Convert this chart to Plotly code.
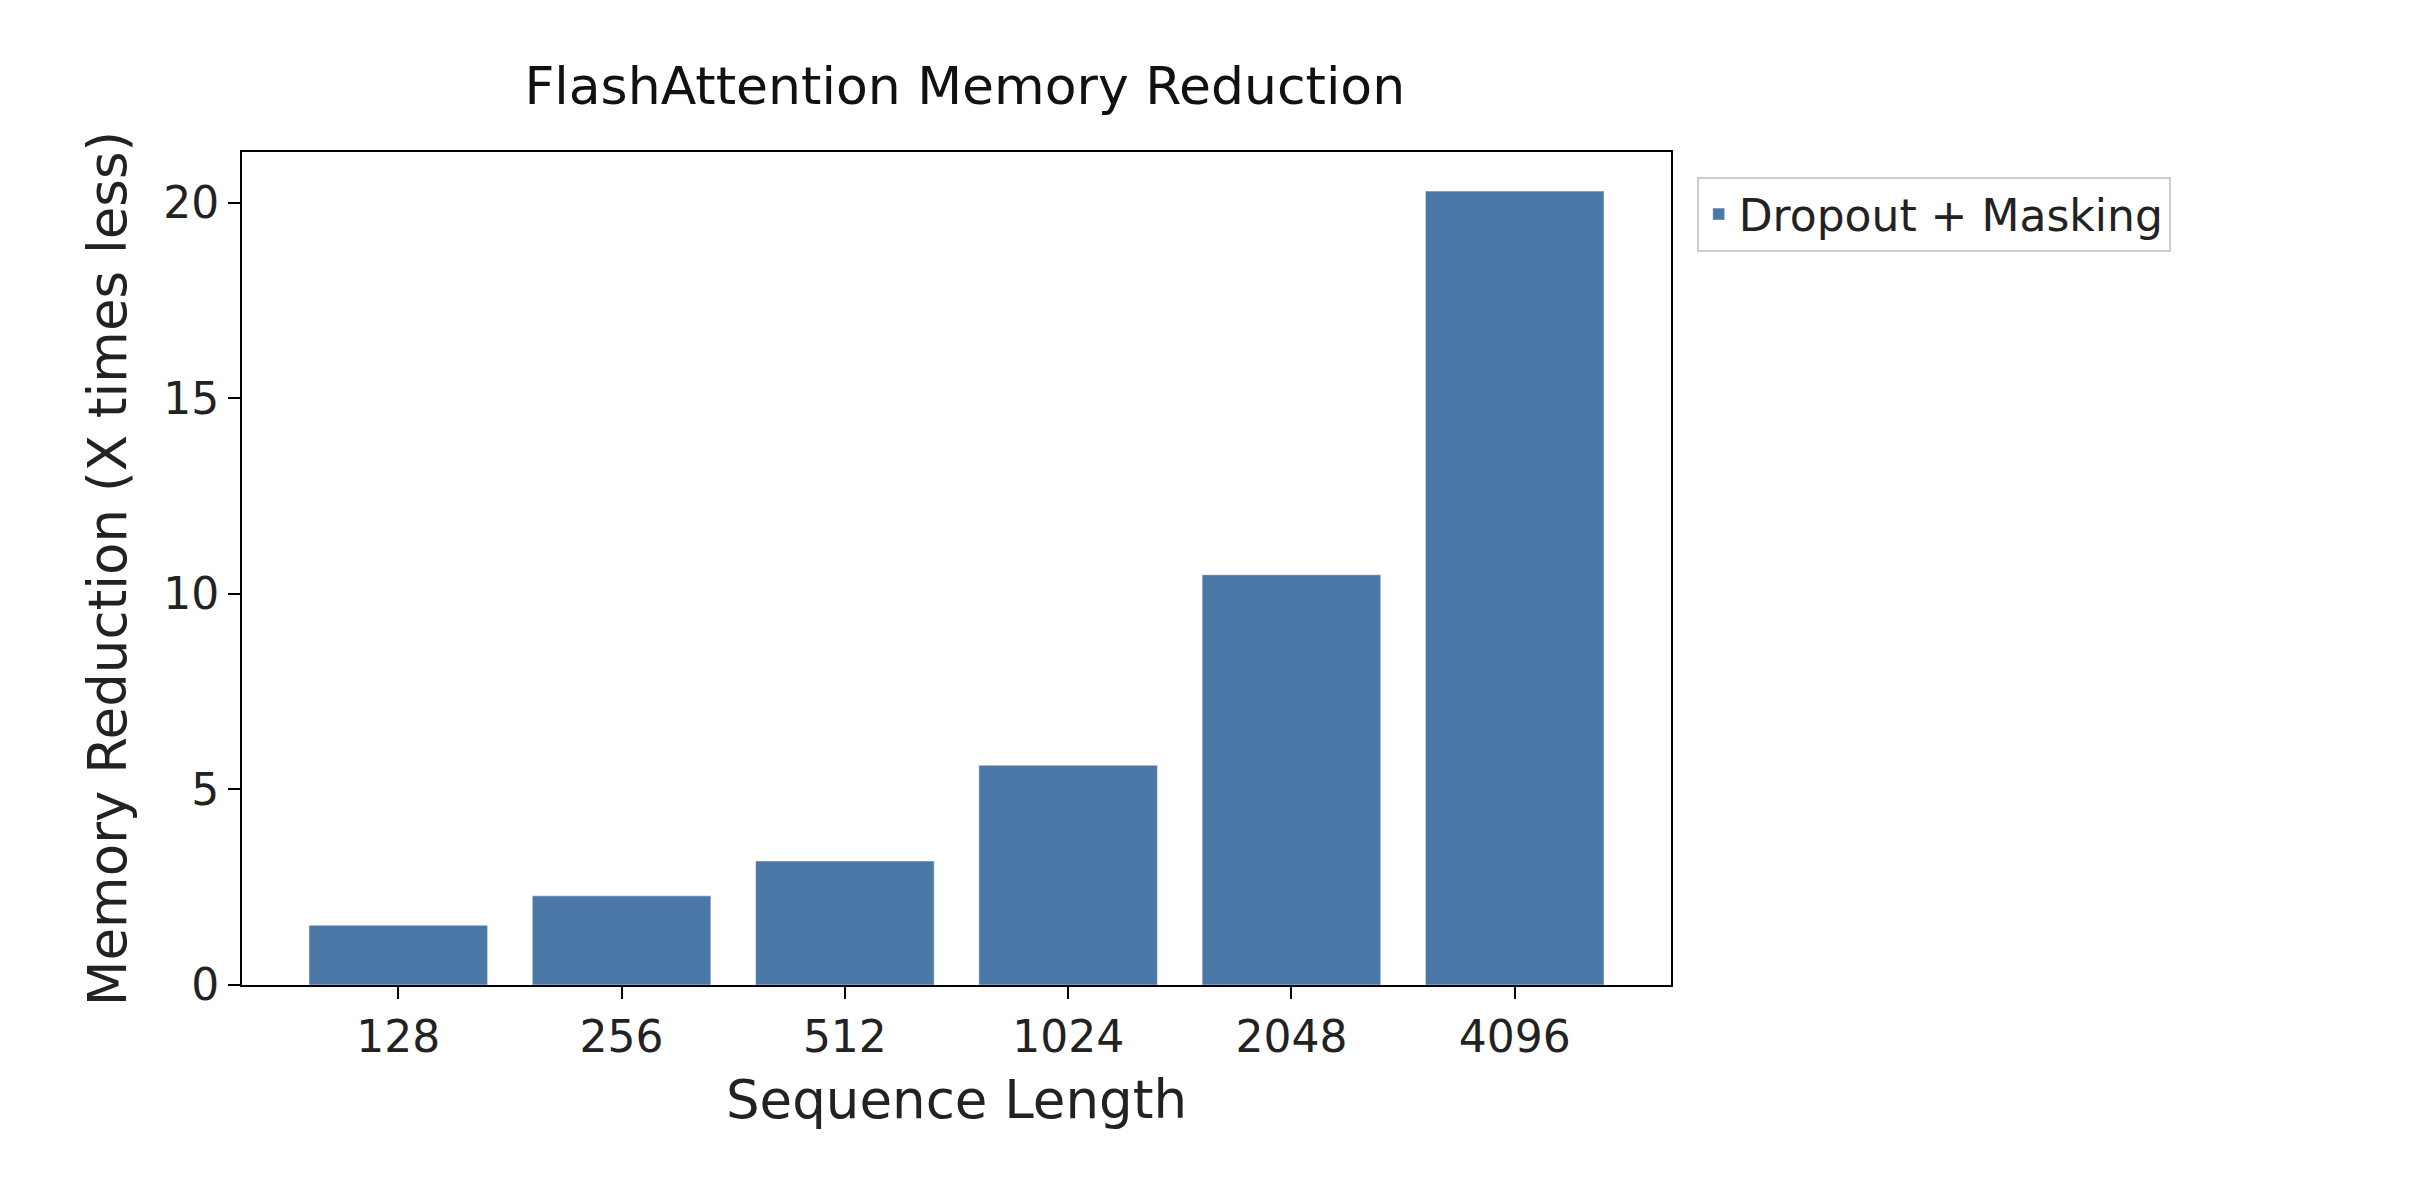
import plotly.graph_objects as go

sequence_lengths = ["128", "256", "512", "1024", "2048", "4096"]
memory_reduction = [1.53, 2.28, 3.17, 5.62, 10.49, 20.3]
series_name = "Dropout + Masking"

FONT = "DejaVu Sans"

fig = go.Figure()
fig.add_trace(go.Bar(
    x=sequence_lengths,
    y=memory_reduction,
    name=series_name,
    marker_color="#4c78a8",
    width=0.8,
    showlegend=True,
))

fig.update_layout(
    width=2410,
    height=1192,
    template="plotly_white",
    font=dict(family=FONT, size=44, color="#222222"),
    title=dict(text="FlashAttention Memory Reduction", x=0.397, xanchor="center",
               y=0.935, yanchor="middle", font=dict(size=52, color="#111111")),
    margin=dict(l=234, r=747, t=144, b=215),
    plot_bgcolor="white",
    paper_bgcolor="white",
    bargap=0.2,
    legend=dict(x=1.018, y=0.97, xanchor="left", yanchor="top",
                bordercolor="#cccccc", borderwidth=2, bgcolor="white",
                font=dict(size=44)),
    xaxis=dict(
        type="category",
        range=[-0.7, 5.7],
        title=dict(text="Sequence Length", standoff=20),
        showline=True, linecolor="black", linewidth=2, mirror=True,
        ticks="outside", ticklen=12, tickwidth=2, tickcolor="black",
        showgrid=False,
    ),
    yaxis=dict(
        range=[0, 21.3],
        tickvals=[0, 5, 10, 15, 20],
        title=dict(text="Memory Reduction (X times less)", standoff=20),
        showline=True, linecolor="black", linewidth=2, mirror=True,
        ticks="outside", ticklen=12, tickwidth=2, tickcolor="black",
        showgrid=False, zeroline=False,
    ),
)

fig.write_html("out.html")
